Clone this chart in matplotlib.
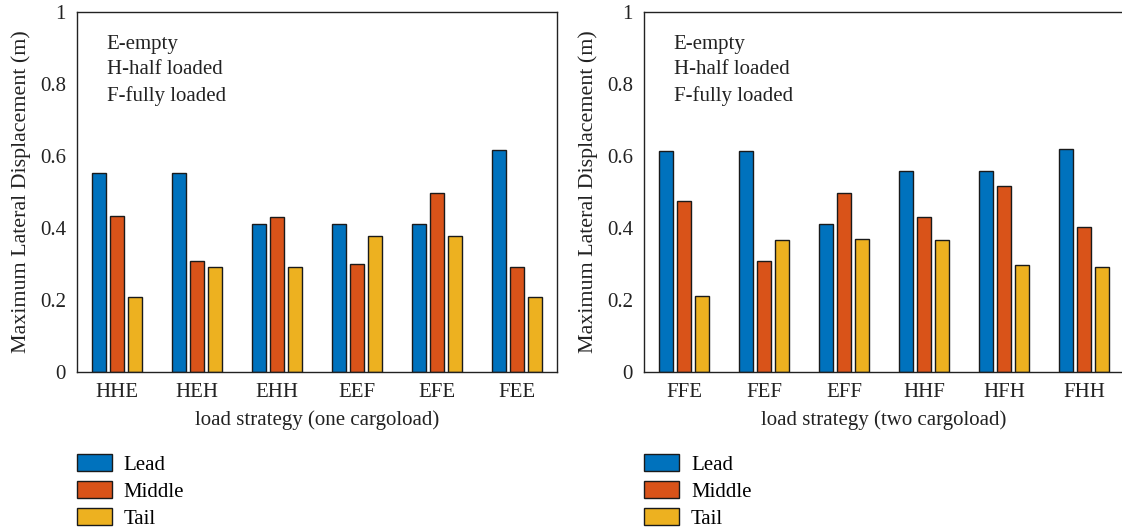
import numpy as np
import matplotlib.pyplot as plt
from matplotlib.patches import Patch

plt.rcParams['font.family'] = ['Liberation Serif', 'DejaVu Serif']

# displacement per car position for each loading order
one_labels = ['HHE', 'HEH', 'EHH', 'EEF', 'EFE', 'FEE']
one_lead = [0.552, 0.552, 0.411, 0.411, 0.411, 0.616]
one_middle = [0.432, 0.309, 0.430, 0.300, 0.498, 0.291]
one_tail = [0.207, 0.293, 0.293, 0.377, 0.377, 0.207]

two_labels = ['FFE', 'FEF', 'EFF', 'HHF', 'HFH', 'FHH']
two_lead = [0.615, 0.615, 0.411, 0.557, 0.557, 0.620]
two_middle = [0.476, 0.309, 0.498, 0.430, 0.517, 0.402]
two_tail = [0.210, 0.368, 0.370, 0.368, 0.296, 0.293]

series_names = ['Lead', 'Middle', 'Tail']
colors = ['#0072BD', '#D95319', '#EDB120']

FS = 15

fig = plt.figure(figsize=(11.22, 5.29), dpi=100)
W, H = 1122, 529
ax1 = fig.add_axes([77 / W, 1 - 372 / H, 480 / W, 360 / H])
ax2 = fig.add_axes([644 / W, 1 - 372 / H, 480 / W, 360 / H])


def draw(ax, labels, lead, middle, tail, xlabel):
    x = np.arange(1, len(labels) + 1)
    for i, vals in enumerate([lead, middle, tail]):
        ax.bar(x + (i - 1) * 0.225, vals, width=0.175, color=colors[i],
               edgecolor='#1a1a1a', linewidth=1.0, zorder=2)
    ax.set_xlim(0.5, 6.5)
    ax.set_ylim(0, 1)
    ax.set_xticks(x)
    ax.set_xticklabels(labels)
    ax.set_yticks([0, 0.2, 0.4, 0.6, 0.8, 1])
    ax.set_yticklabels(['0', '0.2', '0.4', '0.6', '0.8', '1'])
    ax.tick_params(length=0, labelsize=FS, pad=8, colors='#222222')
    ax.set_xlabel(xlabel, fontsize=FS, color='#222222', labelpad=6)
    ax.set_ylabel('Maximum Lateral Displacement (m)', fontsize=15.8,
                  color='#222222', labelpad=6)
    for s in ax.spines.values():
        s.set_linewidth(1.0)
        s.set_color('#222222')
    ax.text(0.062, 0.937, 'E-empty\nH-half loaded\nF-fully loaded',
            transform=ax.transAxes, fontsize=FS, va='top', ha='left',
            linespacing=1.48, color='#222222')
    handles = [Patch(facecolor=c, edgecolor='#1a1a1a', linewidth=1.0)
               for c in colors]
    ax.legend(handles, series_names, loc='upper left',
              bbox_to_anchor=(0.0, -0.229), frameon=False, fontsize=FS,
              handlelength=1.7, handleheight=0.85, labelspacing=0.3,
              handletextpad=0.55, borderaxespad=0, borderpad=0)


draw(ax1, one_labels, one_lead, one_middle, one_tail,
     'load strategy (one cargoload)')
draw(ax2, two_labels, two_lead, two_middle, two_tail,
     'load strategy (two cargoload)')

fig.savefig('out.png', dpi=100)
